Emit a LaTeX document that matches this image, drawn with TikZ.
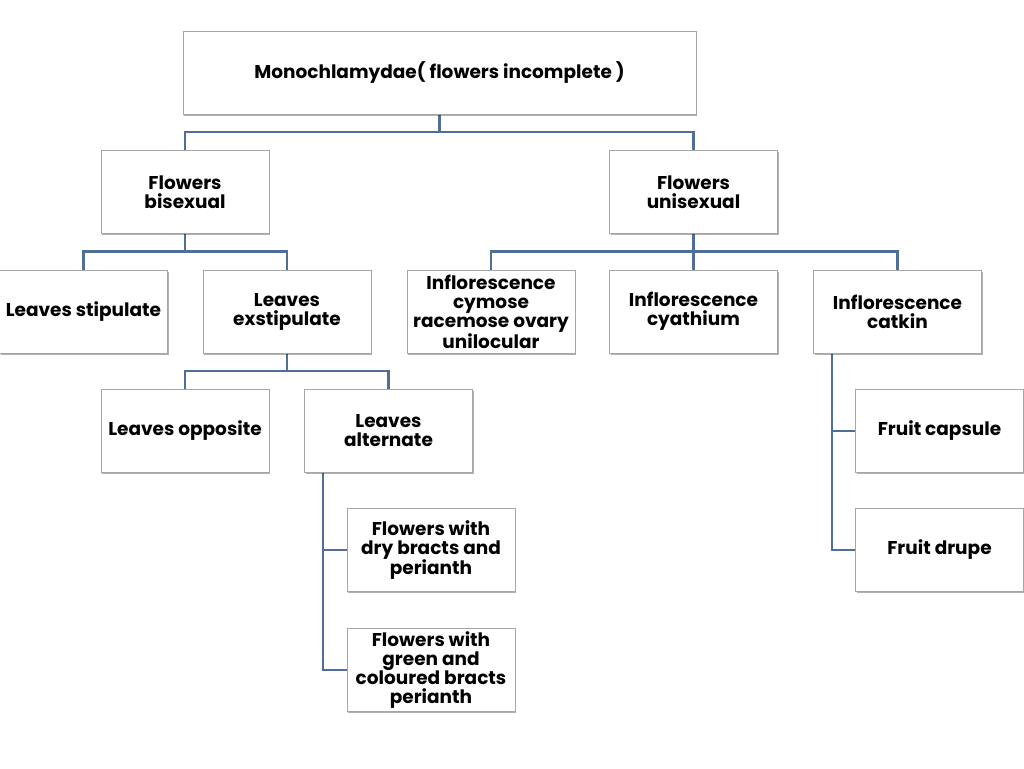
\documentclass[tikz,border=0pt]{standalone}
\usepackage{fontspec}
\setmainfont{Poppins}
\usetikzlibrary{shadows,backgrounds}
\definecolor{linkblue}{HTML}{4F6E98}
\definecolor{boxgray}{HTML}{A6A6A6}

\begin{document}
\begin{tikzpicture}[x=1pt,y=-1pt,
  box/.style={draw=boxgray,line width=.8pt,fill=white,minimum width=168pt,minimum height=83pt,
    inner sep=2pt,align=center,font=\fontsize{18.5}{19}\selectfont\bfseries,
    drop shadow={shadow xshift=1.2pt,shadow yshift=-1.5pt,fill=black,opacity=.3}},
  link/.style={draw=linkblue,line width=2.6pt}]
\useasboundingbox (0,0) rectangle (1024,768);
% top and second level
\node[box,minimum width=513pt] (root) at (439.5,72.5) {Monochlamydae( flowers incomplete )};
\node[box] (bis) at (185,192) {Flowers\\bisexual};
\node[box] (uni) at (693.5,192) {Flowers\\unisexual};
% third level
\node[box] (stip) at (83.5,311.5) {Leaves stipulate};
\node[box] (exst) at (287,311.5) {Leaves\\exstipulate};
\node[box] (cym) at (491,311.5) {Inflorescence\\cymose\\racemose ovary\\unilocular};
\node[box] (cya) at (693.5,311.5) {Inflorescence\\cyathium};
\node[box] (cat) at (897.5,311.5) {Inflorescence\\catkin};
% fourth level
\node[box] (opp) at (185,431) {Leaves opposite};
\node[box] (alt) at (388.5,431) {Leaves\\alternate};
\node[box] (cap) at (939.5,431) {Fruit capsule};
\node[box] (dru) at (939.5,550) {Fruit drupe};
% under leaves alternate
\node[box] (dry) at (431,550) {Flowers with\\dry bracts and\\perianth};
\node[box] (grn) at (431,670) {Flowers with\\green and\\coloured bracts\\perianth};
% connectors
\begin{scope}[on background layer]
\draw[link] (root.south) -- ++(0,18);
\draw[link] (bis.north) -- ++(0,-18) -| (uni.north);
\draw[link] (bis.south) -- ++(0,18);
\draw[link] (stip.north) -- ++(0,-18) -| (exst.north);
\draw[link] (uni.south) -- (cya.north);
\draw[link] (cym.north) -- ++(0,-18) -| (cat.north);
\draw[link] (exst.south) -- ++(0,18);
\draw[link] (opp.north) -- ++(0,-18) -| (alt.north);
\coordinate (altx) at ([xshift=-65.5pt]alt.south);
\draw[link] (altx) |- (grn.west);
\draw[link] (altx |- dry.west) -- (dry.west);
\coordinate (catx) at ([xshift=-65.5pt]cat.south);
\draw[link] (catx) |- (dru.west);
\draw[link] (catx |- cap.west) -- (cap.west);
\end{scope}
\end{tikzpicture}
\end{document}
